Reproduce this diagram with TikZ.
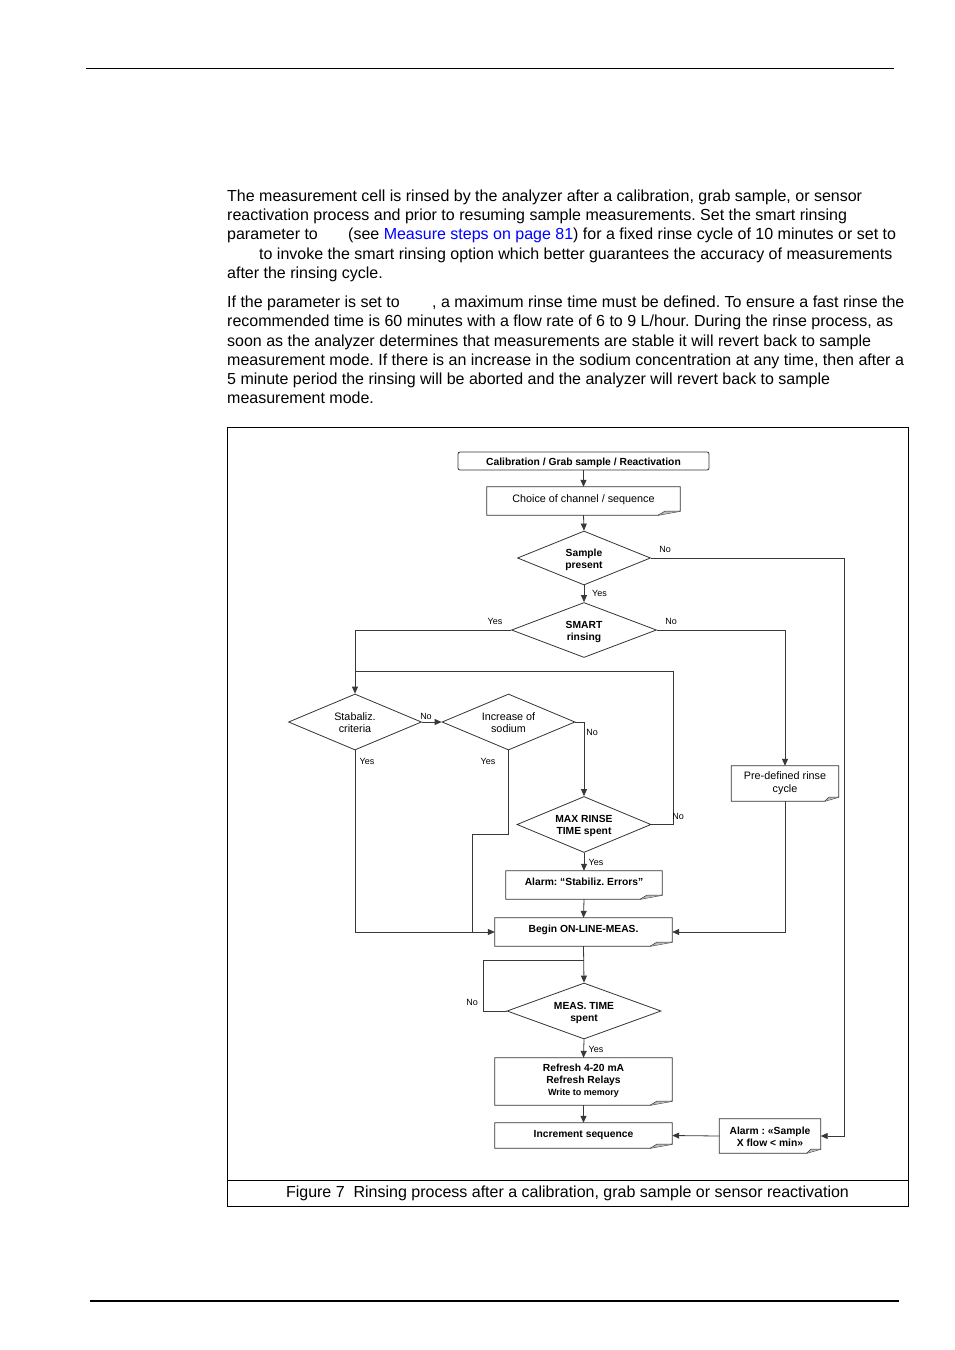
\documentclass[tikz,border=0pt]{standalone}
\usepackage{fontspec}
\setmainfont{Liberation Sans}
\usetikzlibrary{shapes.geometric,arrows.meta,calc}
\definecolor{linkblue}{RGB}{0,0,255}
\frenchspacing
\begin{document}
\begin{tikzpicture}[x=1pt,y=-1pt,
  ln/.style={line width=0.8pt, draw=black!78},
  arr/.style={ln, -{Triangle[length=7pt,width=6pt]}},
  ft/.style={font=\fontsize{10.8}{12}\selectfont, inner sep=0pt, align=center},
  ftb/.style={font=\fontsize{10.3}{12}\selectfont\bfseries, inner sep=0pt, align=center},
  lab/.style={font=\fontsize{9}{10}\selectfont, inner sep=0pt},
  dia/.style={shape=diamond, draw=black!80, line width=0.8pt, inner sep=0pt, aspect=2.4},
  calbox/.style={rectangle, draw=black!80, line width=0.8pt, rounded corners=2pt, inner sep=0pt},
  doc/.style={rectangle, inner sep=0pt},
  body/.style={font=\fontsize{16}{19.5}\selectfont, inner sep=0pt, anchor=base west},
]
\useasboundingbox (0,0) rectangle (954,1350);
\fill[white] (0,0) rectangle (954,1350);

% page rules
\draw[line width=1pt] (86,68) -- (894,68);
\draw[line width=2.4pt] (90,1301) -- (899,1301);

% body text
\node[body] (l1) at (227,201.5) {The measurement cell is rinsed by the analyzer after a calibration, grab sample, or sensor};
\node[body] (l2) at (227,220.5) {reactivation process and prior to resuming sample measurements. Set the smart rinsing};
\node[body] (l3a) at (227,239.5) {parameter to};
\node[body] (l3b) at (348,239.5) {(see \textcolor{linkblue}{Measure steps on page 81}) for a fixed rinse cycle of 10 minutes or set to};
\node[body] (l4) at (259,259) {to invoke the smart rinsing option which better guarantees the accuracy of measurements};
\node[body] (l5) at (227,278.5) {after the rinsing cycle.};
\node[body] (m1a) at (227,307.5) {If the parameter is set to};
\node[body] (m1b) at (432,307.5) {, a maximum rinse time must be defined. To ensure a fast rinse the};
\node[body] (m2) at (227,326.5) {recommended time is 60 minutes with a flow rate of 6 to 9 L/hour. During the rinse process, as};
\node[body] (m3) at (227,346) {soon as the analyzer determines that measurements are stable it will revert back to sample};
\node[body] (m4) at (227,365) {measurement mode. If there is an increase in the sodium concentration at any time, then after a};
\node[body] (m5) at (227,384.5) {5 minute period the rinsing will be aborted and the analyzer will revert back to sample};
\node[body] (m6) at (227,403.5) {measurement mode.};

% figure frame
\draw[line width=0.8pt] (227,427) rectangle (908,1206);
\draw[line width=0.8pt] (227,1180) -- (908,1180);
\node[font=\fontsize{16}{18}\selectfont, inner sep=0pt] (cap) at (567.5,1193) {Figure 7~ Rinsing process after a calibration, grab sample or sensor reactivation};

% ---------- flowchart nodes ----------
\node[calbox, minimum width=251, minimum height=18] (cal) at (583.5,461) {};
\node[ftb] (cal-t) at ($(cal)+(0,2)$) {Calibration / Grab sample / Reactivation};

\node[doc, minimum width=193, minimum height=28] (choice) at (583.5,501) {};
\node[ft] (choice-t) at ($(choice)+(0,-1)$) {Choice of channel / sequence};

\node[dia, minimum width=133, minimum height=54] (sample) at (584,558) {};
\node[ftb] (sample-t) at ($(sample)+(0,2)$) {Sample\\present};
\node[dia, minimum width=145, minimum height=55] (smart) at (584,630) {};
\node[ftb] (smart-t) at ($(smart)+(0,2)$) {SMART\\rinsing};
\node[dia, minimum width=133, minimum height=56] (stab) at (355,722) {};
\node[ft] (stab-t) at ($(stab)+(0,1)$) {Stabaliz.\\criteria};
\node[dia, minimum width=133, minimum height=56] (inc) at (508.5,722) {};
\node[ft] (inc-t) at ($(inc)+(0,1)$) {Increase of\\sodium};
\node[dia, minimum width=134, minimum height=56] (maxr) at (584,824.5) {};
\node[ftb] (maxr-t) at ($(maxr)+(0,1)$) {MAX RINSE\\TIME spent};

\node[doc, minimum width=156, minimum height=28] (alarmA) at (584,885) {};
\node[ftb] (alarmA-t) at ($(alarmA)+(0,-3)$) {Alarm: “Stabiliz. Errors”};

\node[doc, minimum width=177, minimum height=28] (begin) at (583.5,932) {};
\node[ftb] (begin-t) at ($(begin)+(0,-2)$) {Begin ON-LINE-MEAS.};

\node[doc, minimum width=107, minimum height=35] (predef) at (785,783.5) {};
\node[font=\fontsize{10.8}{13}\selectfont, inner sep=0pt, align=center] (predef-t) at ($(predef)+(0,-0.5)$) {Pre-defined rinse\\cycle};

\node[dia, minimum width=154, minimum height=56] (meas) at (584,1011) {};
\node[ftb] (meas-t) at ($(meas)+(0,2)$) {MEAS. TIME\\spent};

\node[doc, minimum width=177, minimum height=47] (refresh) at (583.5,1081.5) {};
\node[ftb] (refresh-t) at ($(refresh)+(0,-1)$) {Refresh 4-20 mA\\Refresh Relays\\{\fontsize{9}{11}\selectfont Write to memory}};

\node[doc, minimum width=177, minimum height=25] (incseq) at (583.5,1135.5) {};
\node[ftb] (incseq-t) at ($(incseq)+(0,-0.5)$) {Increment sequence};

\node[doc, minimum width=101, minimum height=34] (alarmB) at (770,1136) {};
\node[ftb] (alarmB-t) at ($(alarmB)+(0,1)$) {Alarm : «Sample\\X flow < min»};

% document outlines with curled corner
\foreach \n/\c in {choice/22,alarmA/22,begin/22,predef/14,refresh/22,incseq/22,alarmB/14}{
  \draw[line width=0.8pt, draw=black!80] (\n.north west) -- (\n.north east) -- ($(\n.south east)+(0,-4)$)
     -- ($(\n.south east)+(-\c,0)$) -- (\n.south west) -- cycle;
  \fill[gray!55] ($(\n.south east)+(-\c,0)$) -- ($(\n.south east)+(-0.7*\c,-4)$) -- ($(\n.south east)+(0,-4)$) -- cycle;
  \draw[line width=0.5pt, draw=black!80] ($(\n.south east)+(-\c,0)$) -- ($(\n.south east)+(-0.7*\c,-4)$) -- ($(\n.south east)+(0,-4)$);
}

% helper coordinates
\coordinate (rr) at (844,558);
\coordinate (loopA) at (673,671);
\coordinate (jIncA) at (472,834);
\coordinate (loopB) at (483,960);

% ---------- connectors ----------
\draw[arr] (cal.south) -- (choice.north);
\draw[arr] (choice.south) -- (sample.north);
\draw[arr] (sample.south) -- (smart.north);
\draw[arr] (sample.east) -- (rr) |- (alarmB.east);
\draw[arr] (smart.west) -| (stab.north);
\draw[arr] (smart.east) -| (predef.north);
\draw[arr] (stab.east) -- (inc.west);
\draw[arr] (inc.east) -| (maxr.north);
\draw[arr] (stab.south) |- (begin.west);
\draw[ln] (inc.south) |- (jIncA) -- (jIncA |- begin.west);
\draw[ln] (maxr.east) -| (loopA) -- (stab.north |- loopA);
\draw[arr] (maxr.south) -- (alarmA.north);
\draw[arr] (alarmA.south) -- (begin.north);
\draw[arr] (predef.south) |- (begin.east);
\draw[arr] (begin.south) -- (meas.north);
\draw[ln] (meas.west) -| (loopB) -- (begin.south |- loopB);
\draw[arr] (meas.south) -- (refresh.north);
\draw[arr] (refresh.south) -- (incseq.north);
\draw[arr] (alarmB.west) -- (incseq.east);

% ---------- branch labels ----------
\node[lab] (lb1) at (665,549) {No};
\node[lab] (lb2) at (599.5,593) {Yes};
\node[lab] (lb3) at (495,621) {Yes};
\node[lab] (lb4) at (671,621) {No};
\node[lab] (lb5) at (426,716) {No};
\node[lab] (lb6) at (592,732) {No};
\node[lab] (lb7) at (367,761) {Yes};
\node[lab] (lb8) at (488,761) {Yes};
\node[lab] (lb9) at (678,816) {No};
\node[lab] (lb10) at (596,862) {Yes};
\node[lab] (lb11) at (472,1002) {No};
\node[lab] (lb12) at (596,1049) {Yes};
\end{tikzpicture}
\end{document}
